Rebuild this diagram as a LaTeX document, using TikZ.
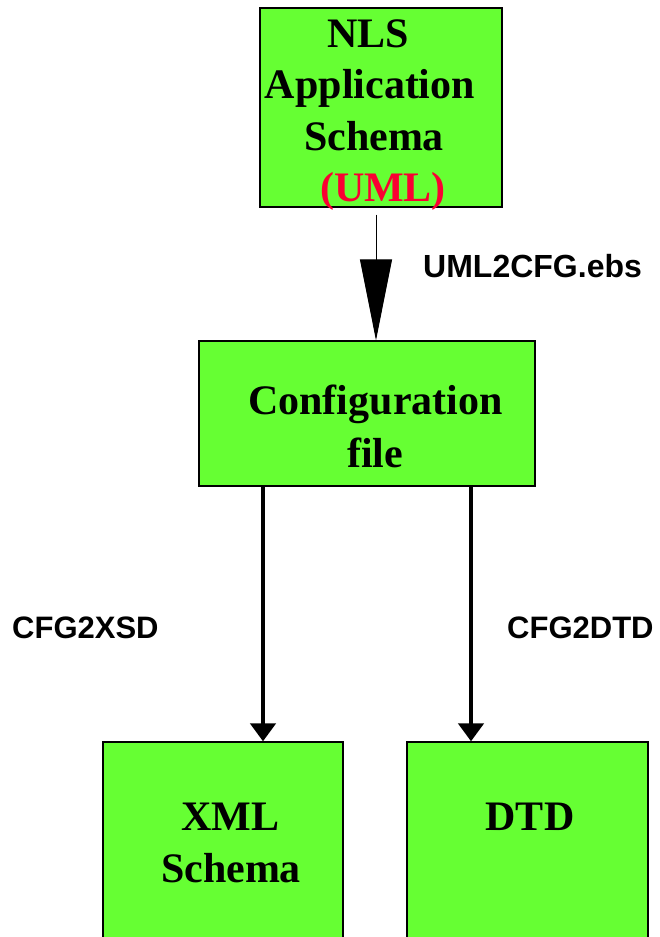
\documentclass[tikz,border=0pt]{standalone}
\usepackage{fontspec}
\setmainfont{Liberation Serif}
\setsansfont{Liberation Sans}
\usetikzlibrary{arrows.meta}
\definecolor{boxgreen}{RGB}{102,255,51}
\definecolor{umlred}{RGB}{250,0,50}

\begin{document}
\begin{tikzpicture}[x=1pt,y=-1pt,
  box/.style={draw=black, line width=1.3pt, fill=boxgreen, rectangle, inner sep=0pt},
  boxtext/.style={anchor=base, inner sep=0pt, font=\fontsize{42}{50}\selectfont\bfseries},
  steplabel/.style={anchor=base west, inner sep=0pt, font=\fontsize{31}{36}\selectfont\sffamily\bfseries},
  thinarrow/.style={line width=1pt, -{Triangle[width=32pt,length=81pt]}},
  thickarrow/.style={line width=4.5pt, -{Triangle[width=25pt,length=18pt]}}]

\useasboundingbox (0,0) rectangle (660,937);

% boxes
\node[box, minimum width=242pt, minimum height=199pt] (app) at (381,107.5) {};
\node[box, minimum width=336pt, minimum height=145pt] (cfg) at (367,413.5) {};
\node[box, minimum width=240pt, minimum height=218pt] (xsd) at (223,851) {};
\node[box, minimum width=241pt, minimum height=218pt] (dtd) at (527.5,851) {};

% box texts
\node[boxtext] (appA) at (368,47) {NLS};
\node[boxtext] (appB) at (370,98) {Application};
\node[boxtext] (appC) at (374,150) {Schema};
\node[boxtext, text=umlred] (appD) at (383,201) {(UML)};
\node[boxtext] (cfgA) at (375.5,414) {Configuration};
\node[boxtext] (cfgB) at (375,467) {file};
\node[boxtext] (xsdA) at (230.5,830) {XML};
\node[boxtext] (xsdB) at (231,882) {Schema};
\node[boxtext] (dtdA) at (530,830) {DTD};

% connectors
\coordinate (appOut) at ([xshift=-5pt,yshift=-7pt]app.south);
\coordinate (cfgIn) at ([xshift=9pt]cfg.north);
\draw[thinarrow] (appOut) -- (cfgIn);

\coordinate (xsdIn) at ([xshift=40pt]xsd.north);
\coordinate (dtdIn) at ([xshift=-56.5pt]dtd.north);
\draw[thickarrow] (cfg.south -| xsdIn) -- (xsdIn);
\draw[thickarrow] (cfg.south -| dtdIn) -- (dtdIn);

% connector labels
\node[steplabel, font=\fontsize{32}{36}\selectfont\sffamily\bfseries] (l1) at (423,277) {UML2CFG.ebs};
\node[steplabel] (l2) at (12,638) {CFG2XSD};
\node[steplabel] (l3) at (507,638) {CFG2DTD};
\end{tikzpicture}
\end{document}
